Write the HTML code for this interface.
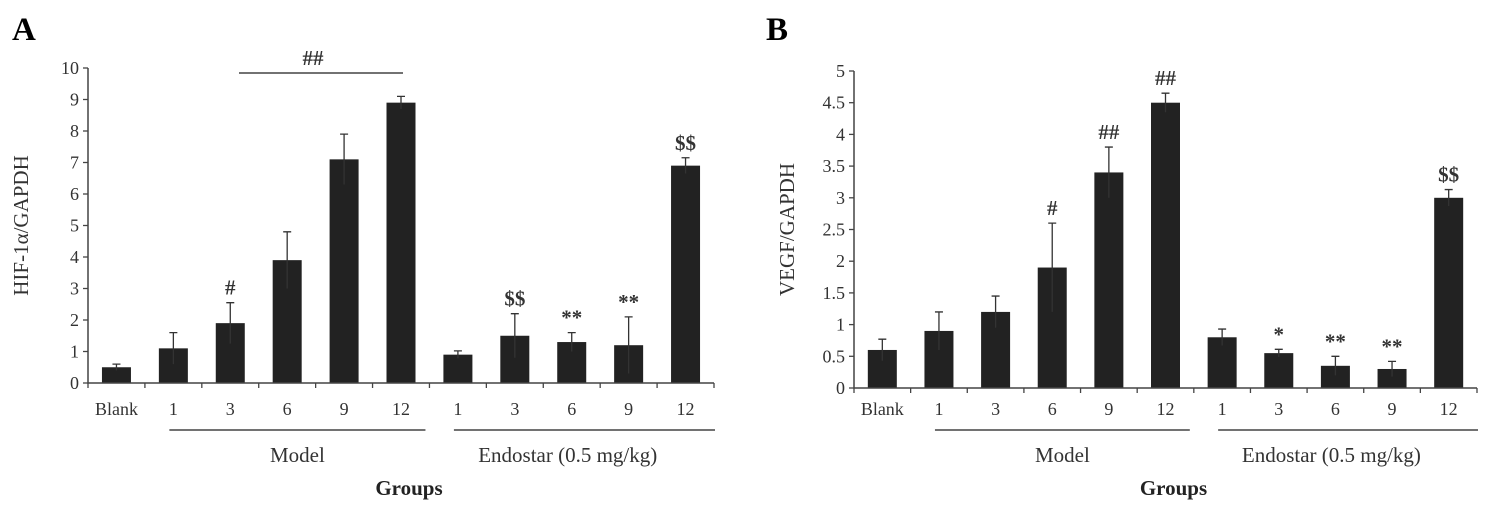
<!DOCTYPE html>
<html><head><meta charset="utf-8"><style>
body{margin:0;background:#fff;}
svg{display:block;font-family:"Liberation Serif",serif;}
</style></head><body>
<svg id="fig" width="1502" height="507"></svg>
<script>
const categories=["Blank","1","3","6","9","12","1","3","6","9","12"];
const hifValues=[0.5,1.1,1.9,3.9,7.1,8.9,0.9,1.5,1.3,1.2,6.9];
const hifErrors=[0.1,0.5,0.65,0.9,0.8,0.2,0.12,0.7,0.3,0.9,0.25];
const hifMarks=["","","#","","","","","$$","**","**","$$"];
const hifTicks=[0,1,2,3,4,5,6,7,8,9,10];
const vegfValues=[0.6,0.9,1.2,1.9,3.4,4.5,0.8,0.55,0.35,0.3,3.0];
const vegfErrors=[0.17,0.3,0.25,0.7,0.4,0.15,0.13,0.06,0.15,0.12,0.13];
const vegfMarks=["","","","#","##","##","","*","**","**","$$"];
const vegfTicks=[0,0.5,1,1.5,2,2.5,3,3.5,4,4.5,5];
const NS="http://www.w3.org/2000/svg";
const svg=document.getElementById('fig');
function mk(tag,attrs,parent,text){const e=document.createElementNS(NS,tag);for(const k in attrs)e.setAttribute(k,attrs[k]);if(text!==undefined)e.textContent=text;(parent||svg).appendChild(e);return e;}
function panel(o){
  const g=mk('g',{});
  
  
  const ymax=o.ticks[o.ticks.length-1];
  const y=v=>o.y0-(v/ymax)*(o.y0-o.yTop);
  const step=(o.x1-o.x0)/categories.length;
  const cx=i=>o.x0+step*(i+0.5);
  const lbl=mk('text',{x:o.labelX,y:40,'font-size':33,'font-weight':'bold'},g,o.letter);
  
  categories.forEach((c,i)=>{
    const v=o.values[i],e=o.errors[i],bw=29;
    const b=mk('rect',{x:cx(i)-bw/2,y:y(v),width:bw,height:o.y0-y(v),fill:'#222'},g);
    
    const eb=mk('path',{d:`M${cx(i)},${y(v-e)}V${y(v+e)}M${cx(i)-4},${y(v+e)}H${cx(i)+4}`,stroke:'#333','stroke-width':1.3,fill:'none'},g);
    
    if(o.marks[i]){const m=mk('text',{x:cx(i),y:y(v+e)-8,'text-anchor':'middle','font-size':21,'font-weight':'bold',fill:'#333'},g,o.marks[i]);
      }
    const t=mk('text',{x:cx(i),y:415,'text-anchor':'middle','font-size':18,fill:'#333'},g,c);
    
    mk('line',{x1:o.x0+step*i,x2:o.x0+step*i,y1:o.y0,y2:o.y0+5,stroke:'#444','stroke-width':1.3},g);
  });
  mk('line',{x1:o.x1,x2:o.x1,y1:o.y0,y2:o.y0+5,stroke:'#444','stroke-width':1.3},g);
  const ax=mk('path',{d:`M${o.x0},${o.yTop}V${o.y0}H${o.x1}`,stroke:'#444','stroke-width':1.5,fill:'none'},g);
  
  o.ticks.forEach(t=>{
    mk('line',{x1:o.x0-5,x2:o.x0,y1:y(t),y2:y(t),stroke:'#444','stroke-width':1.3},g);
    const tl=mk('text',{x:o.x0-9,y:y(t)+6,'text-anchor':'end','font-size':18,fill:'#333'},g,String(t));
    
  });
  const yt=mk('text',{transform:`translate(${o.x0-60},${(o.y0+o.yTop)/2}) rotate(-90)`,'text-anchor':'middle','font-size':21,fill:'#333'},g,o.ytitle);
  
  const mA=cx(1)-4,mB=o.x0+step*6-4,eA=cx(6)-4,eB=o.x1+1;
  const l1=mk('line',{x1:mA,x2:mB,y1:430,y2:430,stroke:'#444','stroke-width':1.5},g);
  
  const l2=mk('line',{x1:eA,x2:eB,y1:430,y2:430,stroke:'#444','stroke-width':1.5},g);
  
  const t1=mk('text',{x:(mA+mB)/2,y:462,'text-anchor':'middle','font-size':21,fill:'#333'},g,'Model');
  
  const t2=mk('text',{x:cx(8)-4,y:462,'text-anchor':'middle','font-size':21,fill:'#333'},g,'Endostar (0.5 mg/kg)');
  
  const xt=mk('text',{x:(o.x0+o.x1)/2+8,y:495,'text-anchor':'middle','font-size':21,'font-weight':'bold',fill:'#222'},g,'Groups');
  
  return {y,cx,g};
}
const A=panel({name:'panel-a-hif',letter:'A',labelX:12,x0:88,x1:714,y0:383,yTop:68,ticks:hifTicks,values:hifValues,errors:hifErrors,marks:hifMarks,ytitle:'HIF-1α/GAPDH'});
const br=mk('line',{x1:239,x2:403,y1:73,y2:73,stroke:'#444','stroke-width':1.5},A.g);

const bt=mk('text',{x:313,y:65,'text-anchor':'middle','font-size':21,'font-weight':'bold',fill:'#333'},A.g,'##');

panel({name:'panel-b-vegf',letter:'B',labelX:766,x0:854,x1:1477,y0:388,yTop:71,ticks:vegfTicks,values:vegfValues,errors:vegfErrors,marks:vegfMarks,ytitle:'VEGF/GAPDH'});
</script>
</body></html>
